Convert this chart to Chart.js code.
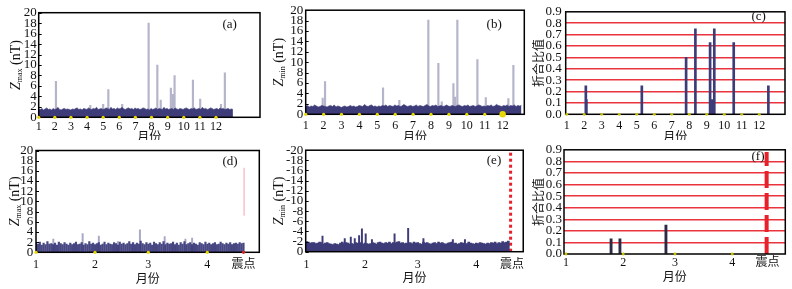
<!DOCTYPE html>
<html><head><meta charset="utf-8">
<script src="https://cdn.jsdelivr.net/npm/chart.js@4.4.1/dist/chart.umd.min.js"></script>
<style>
body{margin:0;background:#fff;width:792px;height:289px;position:relative;overflow:hidden}
canvas{position:absolute}
</style>
</head><body>
<canvas id="ca"></canvas><canvas id="cb"></canvas><canvas id="cc"></canvas>
<canvas id="cd"></canvas><canvas id="ce"></canvas><canvas id="cf"></canvas>
<script>
// ---------------- DATA ----------------
const monthTicks = [1,2,3,4,5,6,7,8,9,10,11,12];
const monthLabels = ['1','2','3','4','5','6','7','8','9','10','11','12'];
const dayTicks = [0,31,59,90,109];          // day offsets from 1 Jan
const dayTickLabels = ['1','2','3','4','震点'];
const quakeDay = 109;

// (a) Zmax whole year: background level (every ~3 days) and spikes
const noiseA = [1.6,1.5,1.7,1.4,1.6,1.8,1.5,1.6,1.4,1.7,1.5,1.6,1.9,1.5,1.4,1.6,1.7,1.5,1.6,1.5,
1.4,1.6,1.5,1.7,1.8,1.5,1.6,1.4,1.7,1.6,1.5,1.8,1.6,1.5,1.7,1.6,1.9,1.5,1.6,1.7,
1.5,1.6,1.8,1.7,1.5,1.9,1.6,1.7,1.5,1.8,1.6,1.7,1.9,1.6,1.5,1.7,1.8,1.6,1.7,1.5,
1.8,1.6,1.7,1.5,1.6,1.8,1.7,1.5,1.6,1.4,1.7,1.5,1.6,1.8,1.5,1.7,1.6,1.5,1.9,1.6,
1.7,1.5,1.6,1.7,1.5,1.8,1.6,1.5,1.7,1.6,1.5,1.7,1.8,1.6,1.5,1.7,1.6,1.8,1.5,1.6,
1.7,1.5,1.9,1.6,1.7,1.5,1.6,1.8,1.7,1.5,1.6,1.7,1.5,1.8,1.6,1.7,1.5,1.6,1.7,1.5,1.6,1.5];
const spikeMonthsA = [2.07,4.2,5.0,5.32,6.18,7.82,8.36,8.57,9.20,9.33,9.43,10.57,11.02,12.31,12.55];
const spikeValuesA = [6.9,2.3,2.5,5.3,2.5,18.0,10.0,3.3,5.6,4.4,8.0,7.1,3.5,2.5,8.5];

// (b) Zmin whole year
const noiseB = [1.5,1.7,1.4,1.6,1.5,1.8,1.6,1.4,1.5,1.7,1.6,1.5,1.4,1.6,1.7,1.5,1.8,1.4,1.6,1.5,
1.3,1.5,1.6,1.4,1.5,1.7,1.5,1.6,1.4,1.5,1.7,1.6,1.5,1.9,1.6,1.5,1.7,1.8,1.5,1.6,
1.4,1.6,1.5,1.7,1.6,1.8,1.5,1.7,1.6,1.5,1.8,1.6,1.7,1.5,1.6,1.9,1.7,1.5,1.6,1.7,
1.5,1.6,1.8,1.5,1.7,1.6,1.5,1.7,1.9,1.6,1.5,1.7,1.6,1.8,1.5,1.6,1.7,1.5,1.6,1.8,
1.6,1.5,1.7,1.6,1.5,1.7,1.8,1.6,1.5,1.7,1.6,1.8,1.5,1.6,1.7,1.5,1.6,1.8,1.7,1.5,
1.6,1.5,1.7,1.6,1.8,1.5,1.6,1.9,1.7,1.6,1.5,1.7,1.6,1.8,1.5,1.7,1.6,1.8,1.5,1.7,1.6,1.7];
const spikeMonthsB = [1.95,2.08,5.32,6.23,7.85,8.41,8.6,9.25,9.34,9.47,10.59,11.06,12.32,12.60];
const spikeValuesB = [3.1,6.3,5.1,2.7,18.1,9.8,2.4,5.9,3.3,18.1,10.5,3.2,3.0,9.4];

// (c) ratio whole year
const ratioMonthsC = [2.09,2.12,5.29,7.82,8.35,9.19,9.32,9.43,10.54,12.52];
const ratioValuesC = [0.25,0.13,0.25,0.50,0.75,0.63,0.13,0.75,0.63,0.25];

// (d) Zmax Jan 1 - quake (daily)
const noiseD = [1.9,1.6,2.0,1.4,1.8,1.5,2.1,1.6,1.7,1.5,1.8,1.4,2.0,1.7,1.5,1.9,1.6,1.4,1.8,1.5,
1.7,2.0,1.5,1.6,1.9,1.4,1.7,1.5,2.1,1.6,1.8,1.5,1.7,1.9,1.4,1.6,2.0,1.5,1.8,1.6,
1.5,1.9,1.7,1.4,2.0,1.6,1.8,1.5,1.7,2.1,1.6,1.9,1.5,1.8,1.6,2.2,1.7,1.5,1.9,1.6,
1.8,1.4,2.0,1.7,1.5,1.9,1.6,2.1,1.5,1.8,1.6,1.7,2.0,1.5,1.8,1.4,1.9,1.6,2.1,1.5,
1.7,1.9,1.5,1.8,1.6,1.4,1.9,1.7,1.5,2.0,1.6,1.8,1.5,1.7,1.9,1.5,1.6,2.0,1.7,1.5,
1.8,1.6,1.9,1.5,1.7,1.8,1.6,1.9,1.7,1.8];
const spikeDaysD = [9.1,24.5,33,43,54.6,67.6,78.5,82];
const spikeValuesD = [2.6,3.7,3.2,2.1,4.4,3.1,2.6,2.8];
const quakeMarkD = [7.2,16.6];

// (e) Zmin Jan 1 - quake (daily, shown as negative)
const noiseE = [2.0,1.9,1.7,1.8,1.8,1.6,1.7,1.9,1.8,1.5,1.7,1.8,1.6,1.5,1.4,1.6,1.5,1.4,1.7,1.9,
1.6,1.8,1.7,1.5,1.6,1.5,1.8,1.7,1.6,1.8,1.5,1.7,1.6,1.5,1.6,1.8,1.7,1.5,1.8,1.9,
1.7,1.6,1.8,1.7,1.9,1.6,1.8,1.7,1.9,2.0,1.7,1.8,1.6,1.7,1.5,1.8,1.6,1.9,1.7,1.8,
1.6,1.5,1.9,1.7,1.8,1.6,1.5,1.7,1.8,1.6,1.9,1.7,1.8,1.6,1.5,1.7,1.8,1.9,1.6,1.7,
1.5,1.6,1.8,1.7,1.5,1.6,1.9,1.7,1.6,1.5,1.7,1.6,1.8,1.7,1.6,1.5,1.7,1.6,1.8,1.7,
1.9,1.6,1.8,1.7,2.0,1.8,1.9,2.1];
const spikeDaysE = [8.5,20.3,23.5,25.6,27.9,29.4,31.4,34.7,46.7,53.9,62,77.6,84];
const spikeValuesE = [3.1,2.6,2.9,2.6,3.2,4.5,3.5,2.4,3.5,4.6,2.6,2.4,2.4];
const quakeLineDayE = 108.2;

// (f) ratio Jan 1 - quake
const ratioDaysF = [24.4,29.2,54.1];
const ratioValuesF = [0.13,0.13,0.25];
const quakeLineDayF = 108.6;
const quakeLineTopF = 0.88;

// ---------------- STYLE / LAYOUT ----------------
const NAVY = '#3d3b78', LIGHT = '#b4b4ca', YEL = '#e6d800', RED = '#e8202a';
const SERIF = "'Liberation Serif', 'Noto Sans CJK SC', serif";
const CJK = "'Noto Sans CJK SC', sans-serif";

const panelPlugin = {
  id: 'panel',
  beforeDatasetDraw(chart, args, o) {
    if (args.index !== 0) return;
    const {ctx, chartArea: a} = chart;
    ctx.save();
    ctx.strokeStyle = '#000'; ctx.lineWidth = 1.5;
    ctx.strokeRect(a.left, a.top, a.right - a.left, a.bottom - a.top);
    if (o.inTicks) {
      ctx.lineWidth = 1;
      chart.scales.y.ticks.forEach(t => {
        const y = Math.round(chart.scales.y.getPixelForValue(t.value)) + 0.5;
        ctx.beginPath(); ctx.moveTo(a.left, y); ctx.lineTo(a.left + 3, y); ctx.stroke();
      });
    }
    ctx.restore();
  },
  afterDraw(chart, args, o) {
    const {ctx, chartArea: a} = chart;
    ctx.save();
    ctx.fillStyle = '#111';
    ctx.textAlign = 'center'; ctx.textBaseline = 'middle';
    ctx.font = '13px ' + SERIF;
    ctx.fillText(o.tag, o.tagX, o.tagY);
    ctx.font = '12px ' + CJK;
    ctx.fillText('月份', (a.left + a.right) / 2, o.xTitleY);
    const cy = (a.top + a.bottom) / 2;
    ctx.translate(o.yTitleX, cy);
    ctx.rotate(-Math.PI / 2);
    if (o.ySub) {
      const fZ = 'italic 14px ' + SERIF, fS = '8px ' + SERIF, fU = '14px ' + SERIF;
      ctx.font = fZ; const wZ = ctx.measureText('Z').width;
      ctx.font = fS; const wS = ctx.measureText(o.ySub).width;
      ctx.font = fU; const wU = ctx.measureText(' (nT)').width;
      let x = -(wZ + wS + wU) / 2;
      ctx.textAlign = 'left'; ctx.textBaseline = 'alphabetic';
      ctx.font = fZ; ctx.fillText('Z', x, 5); x += wZ;
      ctx.font = fS; ctx.fillText(o.ySub, x, 7); x += wS;
      ctx.font = fU; ctx.fillText(' (nT)', x, 5);
    } else {
      ctx.font = '12px ' + CJK;
      ctx.fillText(o.yTitle, 0, 0);
    }
    ctx.restore();
  }
};

function makeChart(id, geo, cfg) {
  const cv = document.getElementById(id);
  cv.width = geo.w; cv.height = geo.h;
  cv.style.left = geo.l + 'px'; cv.style.top = geo.t + 'px';
  cv.style.width = geo.w + 'px'; cv.style.height = geo.h + 'px';
  const yW = geo.L - geo.l, xH = geo.t + geo.h - geo.B;
  return new Chart(cv, {
    type: 'bar',
    data: {datasets: cfg.datasets},
    options: {
      responsive: false, devicePixelRatio: 1, animation: false,
      layout: {padding: {left: 0, top: geo.T - geo.t, right: geo.l + geo.w - geo.R, bottom: 0}},
      plugins: {legend: {display: false}, tooltip: {enabled: false}, panel: cfg.panel},
      scales: {
        x: {
          type: 'linear', min: cfg.xMin, max: cfg.xMax, offset: false,
          grid: {display: false, drawTicks: false}, border: {display: false},
          afterBuildTicks: s => { s.ticks = cfg.xTicks.map(v => ({value: v})); },
          afterFit: s => { s.height = xH; },
          ticks: {autoSkip: false, maxRotation: 0, minRotation: 0, padding: cfg.xPad,
                  font: {family: SERIF, size: 12}, color: '#111',
                  callback: (v, i) => cfg.xLabels[i]}
        },
        y: {
          type: 'linear', min: cfg.yMin, max: cfg.yMax,
          grid: cfg.yGrid || {display: false, drawTicks: false},
          border: {display: false},
          afterFit: s => { s.width = yW; },
          ticks: {autoSkip: false, stepSize: cfg.yStep, padding: cfg.yPad,
                  font: {family: SERIF, size: 13}, color: '#111', callback: cfg.yCb}
        }
      }
    },
    plugins: [panelPlugin]
  });
}

const dots = (xs, colors, radii) => ({
  type: 'line', showLine: false, clip: false,
  data: xs.map(x => ({x, y: 0})),
  pointRadius: radii, pointBackgroundColor: colors, pointBorderWidth: 0, pointHoverRadius: 0
});
const spikes = (xs, ys, color, w) => ({
  type: 'bar', grouped: false, barThickness: w, backgroundColor: color,
  data: xs.map((x, i) => ({x, y: ys[i]}))
});
const noiseFill = (vals, x0, x1) => ({
  type: 'line', fill: 'origin', pointRadius: 0, tension: 0, borderWidth: 0.6,
  borderColor: NAVY, backgroundColor: NAVY,
  data: vals.map((v, i) => ({x: x0 + i * (x1 - x0) / (vals.length - 1), y: v}))
});
const dailyBars = (vals, w, color) => ({
  type: 'bar', grouped: false, barThickness: w, backgroundColor: color,
  data: vals.map((v, i) => ({x: i, y: v}))
});
const vline = (x, y0, y1, color, w, dash) => ({
  type: 'line', pointRadius: 0, fill: false, borderColor: color, borderWidth: w,
  borderDash: dash, borderCapStyle: 'butt', clip: false,
  data: [{x, y: y0}, {x, y: y1}]
});

const intCb = v => String(v);
const negCb = v => v === 0 ? '0' : '-' + v;
const decCb = v => Number(v).toFixed(1);
const redGrid = {drawTicks: false, lineWidth: 1.4,
  color: c => (c.tick.value > 0.05 && c.tick.value < 0.85) ? 'rgba(232,30,40,0.9)' : 'rgba(0,0,0,0)'};

const yel12 = monthTicks.map(() => YEL);

makeChart('ca', {l:0,t:0,w:265,h:140,L:38.7,R:260,T:12.7,B:117.3}, {
  xMin: 1, xMax: 14.73, xTicks: monthTicks, xLabels: monthLabels, xPad: 2,
  yMin: 0, yMax: 20, yStep: 2, yPad: 2, yCb: intCb,
  panel: {tag: '(a)', tagX: 229.7, tagY: 25, xTitleY: 136.7, yTitleX: 14.7, ySub: 'max', inTicks: true},
  datasets: [dots(monthTicks, yel12, 1.6), noiseFill(noiseA, 1, 13.05), spikes(spikeMonthsA, spikeValuesA, LIGHT, 1.5)]
});

makeChart('cb', {l:265,t:0,w:265,h:140,L:305.7,R:524.3,T:10,B:114.3}, {
  xMin: 1, xMax: 13.21, xTicks: monthTicks, xLabels: monthLabels, xPad: 4,
  yMin: 0, yMax: 20, yStep: 2, yPad: 2.4, yCb: intCb,
  panel: {tag: '(b)', tagX: 229.2, tagY: 24.7, xTitleY: 136.7, yTitleX: 12.8, ySub: 'min', inTicks: true},
  datasets: [dots(monthTicks, yel12, monthTicks.map(m => m === 12 ? 3.2 : 1.6)),
             noiseFill(noiseB, 1, 13.05), spikes(spikeMonthsB, spikeValuesB, LIGHT, 1.5)]
});

makeChart('cc', {l:530,t:0,w:262,h:140,L:565.7,R:785,T:11,B:114.3}, {
  xMin: 0.94, xMax: 13.47, xTicks: monthTicks, xLabels: monthLabels, xPad: 4,
  yMin: 0, yMax: 0.9, yStep: 0.1, yPad: 4, yCb: decCb, yGrid: redGrid,
  panel: {tag: '(c)', tagX: 228.7, tagY: 16.2, xTitleY: 136.7, yTitleX: 8.7, yTitle: '折合比值'},
  datasets: [dots(monthTicks, monthTicks.map(() => '#c8c000'), 1.4), spikes(ratioMonthsC, ratioValuesC, NAVY, 2)]
});

const dotDays = dayTicks;
makeChart('cd', {l:0,t:140,w:265,h:149,L:36,R:259.3,T:147.3,B:252.3}, {
  xMin: 0, xMax: 117.3, xTicks: dayTicks, xLabels: dayTickLabels, xPad: 5,
  yMin: 0, yMax: 20, yStep: 2, yPad: 2.7, yCb: intCb,
  panel: {tag: '(d)', tagX: 230, tagY: 21.3, xTitleY: 138.3, yTitleX: 14.2, ySub: 'max', inTicks: true},
  datasets: [dots(dotDays, dotDays.map(d => d === quakeDay ? '#e02020' : YEL), 1.6),
             dailyBars(noiseD, 1.5, 'rgba(58,56,120,0.92)'),
             spikes(spikeDaysD, spikeValuesD, '#a8a8c6', 1.3),
             vline(quakeDay + 0.3, quakeMarkD[0], quakeMarkD[1], '#f4a2ae', 1, [])]
});

makeChart('ce', {l:265,t:140,w:265,h:149,L:305.7,R:524.3,T:147.3,B:251.7}, {
  xMin: -0.4, xMax: 114.9, xTicks: dayTicks, xLabels: dayTickLabels, xPad: 5.6,
  yMin: 0, yMax: 20, yStep: 2, yPad: 2.4, yCb: negCb,
  panel: {tag: '(e)', tagX: 229, tagY: 20.7, xTitleY: 137.5, yTitleX: 13.3, ySub: 'min', inTicks: true},
  datasets: [dots([], [], 0),
             dailyBars(noiseE, 2, NAVY),
             spikes(spikeDaysE, spikeValuesE, NAVY, 1.3),
             vline(quakeLineDayE, 0, 20, RED, 3, [3, 3])]
});

makeChart('cf', {l:530,t:140,w:262,h:149,L:564,R:785.3,T:149.7,B:254}, {
  xMin: -1.08, xMax: 118.7, xTicks: dayTicks, xLabels: dayTickLabels, xPad: 2,
  yMin: 0, yMax: 0.9, yStep: 0.1, yPad: 2, yCb: decCb, yGrid: redGrid,
  panel: {tag: '(f)', tagX: 228, tagY: 16.7, xTitleY: 136.7, yTitleX: 8.7, yTitle: '折合比值'},
  datasets: [dots(dayTicks.slice(0, 4), dayTicks.slice(0, 4).map(() => '#c8c000'), 1.4),
             spikes(ratioDaysF, ratioValuesF, '#2c2a44', 2.2),
             vline(quakeLineDayF, 0, quakeLineTopF, RED, 4, [17, 5])]
});
</script>
</body></html>
